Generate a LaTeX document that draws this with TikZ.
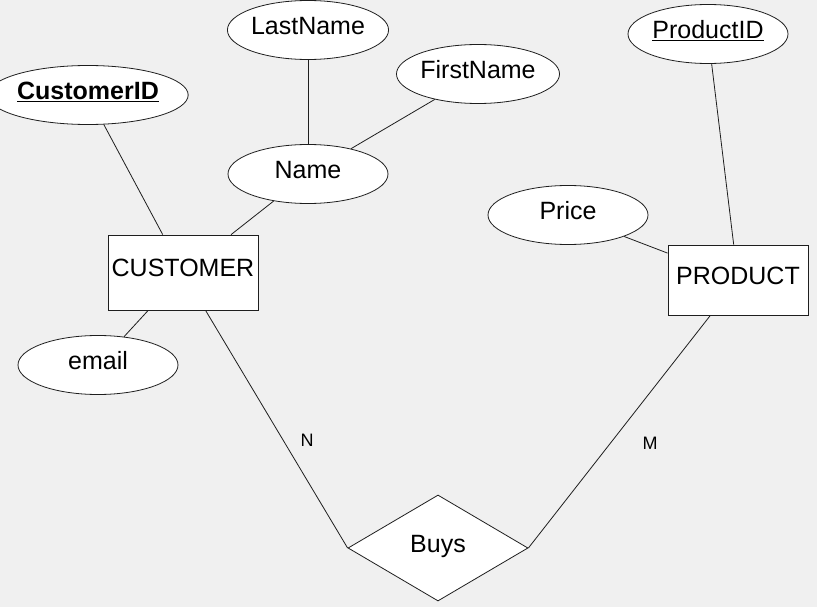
\documentclass[tikz,border=0pt]{standalone}
\usepackage{fontspec}
\setmainfont{Liberation Sans}
\usepackage{xcolor}
\usetikzlibrary{shapes.geometric}
\definecolor{canvasgray}{RGB}{240, 240, 240}
\definecolor{edgegray}{RGB}{30, 30, 30}

\begin{document}
\begin{tikzpicture}[
    x=1pt, y=-1pt,
    attr/.style={ellipse, draw=edgegray, fill=white, line width=0.8pt,
                 minimum width=160pt, minimum height=59pt, inner sep=0pt,
                 text depth=9pt, font=\fontsize{25}{29}\selectfont},
    entity/.style={rectangle, draw=edgegray, fill=white, line width=0.8pt,
                   inner sep=0pt, text depth=9pt, font=\fontsize{25}{29}\selectfont},
    relation/.style={diamond, draw=edgegray, fill=white, line width=0.8pt,
                     aspect=1.7, minimum width=180pt, minimum height=106pt,
                     inner sep=0pt, text depth=9pt, font=\fontsize{25}{29}\selectfont},
    link/.style={draw=edgegray, line width=0.8pt},
    card/.style={font=\fontsize{18}{21}\selectfont}
]
    % Canvas
    \fill[canvasgray] (0, 0) rectangle (817, 607);
    \useasboundingbox (0, 0) rectangle (817, 607);

    % Entities and relationship
    \node[entity, minimum width=150pt, minimum height=75pt] (customer) at (183, 272.5) {CUSTOMER};
    \node[entity, minimum width=140pt, minimum height=70pt] (product) at (738, 280) {PRODUCT};
    \node[relation] (buys) at (438, 548) {Buys};

    % Attributes
    \node[attr] (custid) at (88, 95) {\textbf{\underline{CustomerID}}};
    \node[attr] (lastname) at (308, 30) {LastName};
    \node[attr] (firstname) at (478, 74) {FirstName};
    \node[attr] (name) at (308, 174) {Name};
    \node[attr] (email) at (98, 365) {email};
    \node[attr] (price) at (568, 215) {Price};
    \node[attr] (prodid) at (708, 34) {\underline{ProductID}};

    % Connectors
    \draw[link] (custid) -- (customer);
    \draw[link] (name) -- (customer);
    \draw[link] (lastname) -- (name);
    \draw[link] (firstname) -- (name);
    \draw[link] (email) -- (customer);
    \draw[link] (price) -- (product);
    \draw[link] (prodid) -- (product);
    \draw[link] (customer) -- (buys.west);
    \draw[link] (product) -- (buys.east);

    % Cardinalities
    \node[card] (cardn) at (307, 440) {N};
    \node[card] (cardm) at (650, 443) {M};
\end{tikzpicture}
\end{document}
